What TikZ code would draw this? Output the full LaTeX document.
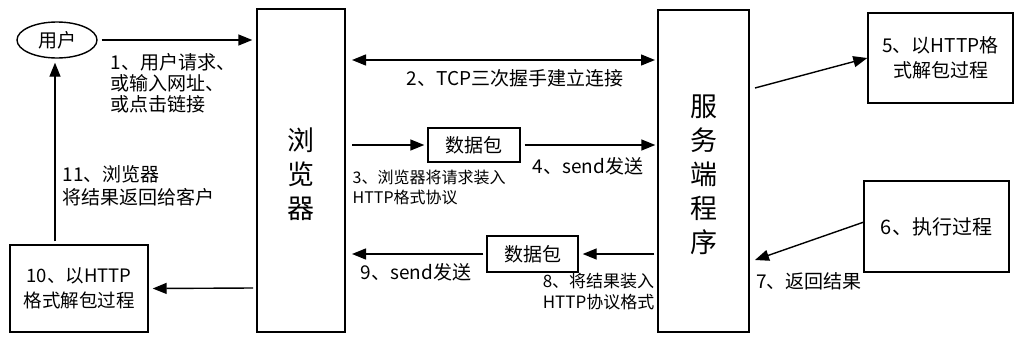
\documentclass[tikz,border=0pt]{standalone}
\usepackage{fontspec}
\setmainfont{Noto Sans CJK SC}
\usetikzlibrary{arrows.meta,shapes.geometric,calc}
\begin{document}
\begin{tikzpicture}[x=1pt,y=-1pt,
  line width=1.4pt,
  arr/.style={-{Triangle[length=14pt,width=11pt]}},
  box/.style={draw,line width=1.4pt,inner sep=0pt,align=center},
  lbl/.style={font=\fontsize{19}{21}\selectfont,align=left,inner sep=0pt},
  slbl/.style={font=\fontsize{16}{20}\selectfont,align=left,inner sep=0pt},
  big/.style={font=\fontsize{27}{34}\selectfont,align=center,inner sep=0pt}]
\useasboundingbox (0,0) rectangle (1023,343);
% main boxes
\node[box,minimum width=88pt,minimum height=323pt] (browser) at (301,170.5) {};
\node[big] (browsertxt) at (301,174) {浏\\览\\器};
\node[box,minimum width=91pt,minimum height=322pt] (server) at (703.5,171) {};
\node[big] (servertxt) at (703.5,175) {服\\务\\端\\程\\序};
% user
\node[draw,ellipse,line width=1.4pt,minimum width=80pt,minimum height=36pt,inner sep=0pt,font=\fontsize{19}{20}\selectfont] (user) at (57,40) {用户};
% packets
\node[box,minimum width=92pt,minimum height=34pt,font=\fontsize{19}{22}\selectfont] (pk1) at (474,145) {数据包};
\node[box,minimum width=91pt,minimum height=36pt,font=\fontsize{19}{22}\selectfont] (pk2) at (532.5,254) {数据包};
% side boxes
\node[box,minimum width=138pt,minimum height=87pt,font=\fontsize{18.5}{25}\selectfont] (b10) at (79,288.5) {10、以HTTP\\格式解包过程};
\node[box,minimum width=145pt,minimum height=90pt,font=\fontsize{19}{25}\selectfont] (b5) at (940.5,58) {5、以HTTP格\\式解包过程};
\node[box,minimum width=145pt,minimum height=91pt,font=\fontsize{20}{24}\selectfont] (b6) at (936.5,226.5) {6、执行过程};
% coordinates
\coordinate (a1e) at (browser.west |- user.east);
\coordinate (tcpL) at (352,60);
\coordinate (tcpR) at (655,60);
\coordinate (a3s) at (352,145);
\coordinate (a4e) at (server.west |- pk1.east);
\coordinate (a8s) at (server.west |- pk2.east);
\coordinate (a9e) at (352,254);
\coordinate (a10s) at (253,288);
\coordinate (a5s) at (755,88);
\coordinate (a7e) at (755,260);
\coordinate (a6s) at (864,222);
% arrows
\draw[arr] ($(user.east)+(4,0)$) -- ($(a1e)+(-4,0)$);
\draw[{Triangle[length=14pt,width=11pt]}-{Triangle[length=14pt,width=11pt]}] (tcpL) -- (tcpR);
\draw[arr] (a3s) -- ($(pk1.west)+(-3,0)$);
\draw[arr] ($(pk1.east)+(4,0)$) -- ($(a4e)+(-2,0)$);
\draw[arr] ($(a8s)+(-3,0)$) -- ($(pk2.east)+(4,0)$);
\draw[arr] ($(pk2.west)+(-3,0)$) -- (a9e);
\draw[arr] (a10s) -- ($(b10.east)+(4,0)$);
\draw[arr] ($(b10.north)+(-24,-3)$) -- ($(user.south)+(-2,4)$);
\draw[arr] (a5s) -- ($(b5.west)+(0,0)$);
\draw[arr] (a6s) -- (a7e);
% labels
\node[lbl,anchor=west,align=left] (l1) at (110,83) {1、用户请求、\\或输入网址、\\或点击链接};
\node[lbl,anchor=center] (l2) at (515,78) {2、TCP三次握手建立连接};
\node[slbl,anchor=west] (l3) at (352,187) {3、浏览器将请求装入\\HTTP格式协议};
\node[lbl,font=\fontsize{19}{23}\selectfont,anchor=center] (l4) at (588,166) {4、send发送};
\node[lbl,anchor=center] (l7) at (809,281) {7、返回结果};
\node[slbl,font=\fontsize{17}{21}\selectfont,anchor=east,align=left] (l8) at (655,292) {8、将结果装入\\HTTP协议格式};
\node[lbl,anchor=center] (l9) at (416,272) {9、send发送};
\node[lbl,font=\fontsize{19}{23}\selectfont,anchor=west] (l11) at (62,186) {11、浏览器\\将结果返回给客户};
\end{tikzpicture}
\end{document}
